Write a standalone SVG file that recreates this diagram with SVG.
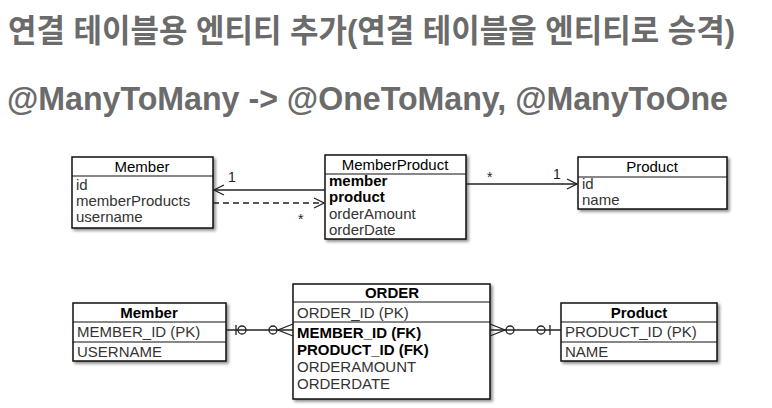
<svg xmlns="http://www.w3.org/2000/svg" width="772" height="408" viewBox="0 0 772 408">
<defs>
<filter id="sh" x="-10%" y="-10%" width="130%" height="130%">
<feDropShadow dx="2" dy="2" stdDeviation="1.5" flood-color="#000" flood-opacity="0.45"/>
</filter>
<marker id="open" viewBox="0 0 12 12" refX="11" refY="6" markerWidth="12" markerHeight="12" markerUnits="userSpaceOnUse" orient="auto">
<path d="M1,1 L11,6 L1,11" fill="none" stroke="#222" stroke-width="1.3"/>
</marker>
</defs>
<style>
.hd{font-family:"Liberation Sans","Noto Sans CJK KR",sans-serif;font-weight:bold;fill:#6b6b6b}
.box{fill:#fff;stroke:#111;stroke-width:1.5}
.sep{stroke:#111;stroke-width:1.2}
.t{font-family:"Liberation Sans",Arial,sans-serif;font-size:15px;fill:#333}
.tt{font-family:"Liberation Sans",Arial,sans-serif;font-size:15px;fill:#000;text-anchor:middle}
.b{font-weight:bold;fill:#000}
.ln{stroke:#222;stroke-width:1.3;fill:none}
.lbl{font-family:"Liberation Sans",Arial,sans-serif;font-size:14px;fill:#222}
</style>
<rect width="772" height="408" fill="#fff"/>
<text class="hd" x="8" y="42" font-size="32" textLength="727" lengthAdjust="spacingAndGlyphs">연결 테이블용 엔티티 추가(연결 테이블을 엔티티로 승격)</text>
<text class="hd" x="7" y="110" font-size="34" textLength="721" lengthAdjust="spacingAndGlyphs">@ManyToMany -&gt; @OneToMany, @ManyToOne</text>

<g id="member-obj">
<rect class="box" x="72" y="157" width="141" height="71" filter="url(#sh)"/>
<line class="sep" x1="72" y1="176" x2="213" y2="176"/>
<text class="tt" x="142" y="172">Member</text>
<text class="t" x="76" y="190">id</text>
<text class="t" x="76" y="206">memberProducts</text>
<text class="t" x="76" y="222">username</text>
</g>
<g id="memberproduct-obj">
<rect class="box" x="325" y="155" width="141" height="84" filter="url(#sh)"/>
<line class="sep" x1="325" y1="174" x2="466" y2="174"/>
<text class="tt" x="395" y="170">MemberProduct</text>
<text class="t b" x="329" y="186">member</text>
<text class="t b" x="329" y="202">product</text>
<text class="t" x="329" y="219">orderAmount</text>
<text class="t" x="329" y="235">orderDate</text>
</g>
<g id="product-obj">
<rect class="box" x="578" y="157" width="149" height="52" filter="url(#sh)"/>
<line class="sep" x1="578" y1="177" x2="727" y2="177"/>
<text class="tt" x="652" y="172">Product</text>
<text class="t" x="582" y="189">id</text>
<text class="t" x="582" y="205">name</text>
</g>

<g id="member-tbl">
<rect class="box" x="73" y="303" width="153" height="58" filter="url(#sh)"/>
<line class="sep" x1="73" y1="322" x2="226" y2="322"/>
<line class="sep" x1="73" y1="342" x2="226" y2="342"/>
<text class="tt b" x="149" y="318">Member</text>
<text class="t" x="77" y="337">MEMBER_ID (PK)</text>
<text class="t" x="77" y="357">USERNAME</text>
</g>
<g id="order-tbl">
<rect class="box" x="293" y="284" width="197" height="115" filter="url(#sh)"/>
<line class="sep" x1="293" y1="302" x2="490" y2="302"/>
<line class="sep" x1="293" y1="322" x2="490" y2="322"/>
<text class="tt b" x="392" y="298">ORDER</text>
<text class="t" x="297" y="318">ORDER_ID (PK)</text>
<text class="t b" x="297" y="338">MEMBER_ID (FK)</text>
<text class="t b" x="297" y="355">PRODUCT_ID (FK)</text>
<text class="t" x="297" y="372">ORDERAMOUNT</text>
<text class="t" x="297" y="389">ORDERDATE</text>
</g>
<g id="product-tbl">
<rect class="box" x="561" y="303" width="156" height="58" filter="url(#sh)"/>
<line class="sep" x1="561" y1="322" x2="717" y2="322"/>
<line class="sep" x1="561" y1="342" x2="717" y2="342"/>
<text class="tt b" x="639" y="318">Product</text>
<text class="t" x="565" y="337">PRODUCT_ID (PK)</text>
<text class="t" x="565" y="357">NAME</text>
</g>

<g id="connectors">
<line class="ln" x1="325" y1="190" x2="214" y2="190" marker-end="url(#open)"/>
<text class="lbl" x="228" y="182">1</text>
<line class="ln" x1="213" y1="203" x2="324" y2="203" stroke-dasharray="6,4" marker-end="url(#open)"/>
<text class="lbl" x="298" y="224">*</text>
<line class="ln" x1="466" y1="184" x2="577" y2="184" marker-end="url(#open)"/>
<text class="lbl" x="487" y="182">*</text>
<text class="lbl" x="553" y="179">1</text>

<line class="ln" x1="226" y1="330" x2="293" y2="330"/>
<line class="ln" x1="236" y1="325" x2="236" y2="335"/>
<circle class="ln" cx="242" cy="330" r="4" fill="#fff"/>
<circle class="ln" cx="273" cy="330" r="4" fill="#fff"/>
<path class="ln" d="M293,324 L278,330 L293,336"/>

<line class="ln" x1="490" y1="330" x2="561" y2="330"/>
<path class="ln" d="M490,324 L505,330 L490,336"/>
<circle class="ln" cx="510" cy="330" r="4" fill="#fff"/>
<circle class="ln" cx="541" cy="330" r="4" fill="#fff"/>
<line class="ln" x1="550" y1="325" x2="550" y2="335"/>
</g>
</svg>
